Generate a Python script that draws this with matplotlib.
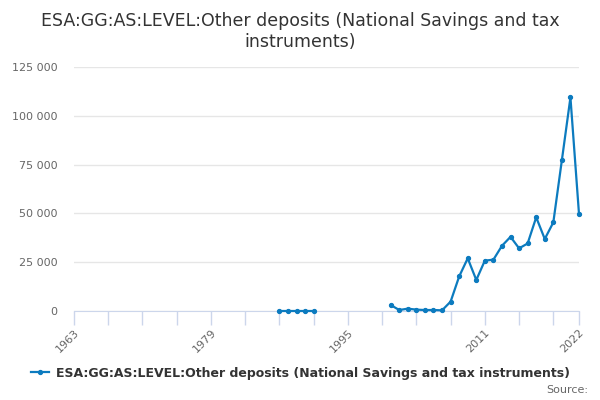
import numpy as np
import matplotlib
matplotlib.use("Agg")
import matplotlib.pyplot as plt
from matplotlib.ticker import FuncFormatter, MultipleLocator

# data
years_a = [1987, 1988, 1989, 1990, 1991]
vals_a = [100, 100, 100, 100, 100]

years_b = list(range(2000, 2023))
vals_b = [3070, 500, 1200, 700, 500, 500, 350, 4800, 17700, 27000, 15900,
          25800, 26300, 33400, 38000, 32100, 34600, 48000, 36900, 45400,
          77300, 109400, 49700]

title = "ESA:GG:AS:LEVEL:Other deposits (National Savings and tax\ninstruments)"
series_name = "ESA:GG:AS:LEVEL:Other deposits (National Savings and tax instruments)"
xtick_labels = [1963, 1979, 1995, 2011, 2022]

color = "#0c7bbf"
plt.rcParams['font.family'] = ['DejaVu Sans']

fig = plt.figure(figsize=(6, 4), dpi=100)
ax = fig.add_axes([74/600, 1 - 311/400, (579 - 74)/600, (311 - 67)/400])

for xs, ys in [(years_a, vals_a), (years_b, vals_b)]:
    line, = ax.plot(xs, ys, color=color, lw=1.6, marker='o', ms=2.8, clip_on=False, zorder=3)
line.set_label(series_name)

ax.set_xlim(1963, 2022)
ax.set_ylim(0, 125000)
ax.yaxis.set_major_locator(MultipleLocator(25000))
ax.yaxis.set_major_formatter(FuncFormatter(lambda v, p: f"{int(v):,}".replace(",", " ")))
ax.grid(axis='y', color='#e6e6e6', lw=1)
ax.set_axisbelow(True)

ax.set_xticks(xtick_labels)
ax.set_xticklabels([str(t) for t in xtick_labels], rotation=45, ha='right', va='top',
                   rotation_mode='anchor', fontsize=8, color='#666666')
ax.set_xticks(np.arange(1963, 2022, 4), minor=True)
ax.tick_params(axis='x', which='both', length=10, color='#ccd6eb', width=1, pad=2,
               direction='out')
ax.tick_params(axis='y', length=0, labelsize=8, labelcolor='#666666', pad=12)

for s in ['top', 'right', 'left']:
    ax.spines[s].set_visible(False)
ax.spines['bottom'].set_color('#ccd6eb')

fig.text(0.5, 0.97, title, ha='center', va='top', fontsize=12.5, color='#333333',
         linespacing=1.2)
fig.legend(handles=[line], loc='center', bbox_to_anchor=(0.5, 1 - 373/400), frameon=False,
           prop={'weight': 'bold', 'size': 9}, labelcolor='#333333', handlelength=1.5,
           handletextpad=0.5)
fig.text(588/600, 1 - 390/400, "Source:", ha='right', va='center', fontsize=8, color='#666666')

fig.savefig("out.png", dpi=100)
